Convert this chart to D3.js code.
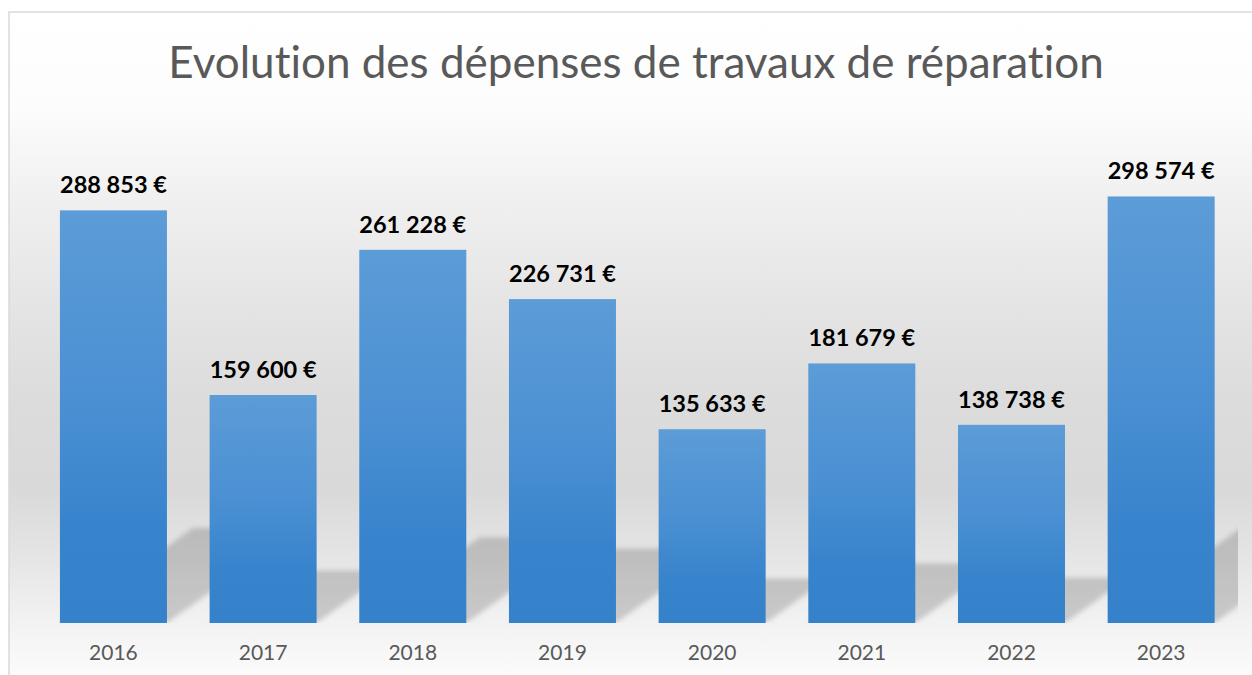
<!DOCTYPE html>
<html>
<head>
<meta charset="utf-8">
<script src="https://cdn.jsdelivr.net/npm/d3@7"></script>
<style>
  html, body { margin: 0; padding: 0; background: #fff; overflow: hidden; }
  svg { display: block; }
  text { font-variant-ligatures: none; }
</style>
</head>
<body>
<div id="chart"></div>
<script>
const title = "Evolution des dépenses de travaux de réparation";
const years = ["2016", "2017", "2018", "2019", "2020", "2021", "2022", "2023"];
const amounts = [288853, 159600, 261228, 226731, 135633, 181679, 138738, 298574];
const yMax = 350000;

const width = 1252, height = 675;
const plot = { left: 38.6, right: 1236, top: 123, bottom: 623 };

const svg = d3.select("#chart").append("svg")
    .attr("width", width)
    .attr("height", height);

const defs = svg.append("defs");

// chart background: white -> grey -> white
const bg = defs.append("linearGradient")
    .attr("id", "bg")
    .attr("gradientUnits", "userSpaceOnUse")
    .attr("x1", 0).attr("x2", 0).attr("y1", 12).attr("y2", 675);
[[0, "#ffffff"], [0.15, "#fcfcfc"], [0.28, "#f0f0f0"], [0.45, "#e4e4e4"],
 [0.585, "#dcdcdc"], [0.72, "#d9d9d9"], [0.83, "#e6e6e6"], [0.92, "#f2f2f2"], [1, "#fbfbfb"]]
    .forEach(([o, c]) => bg.append("stop").attr("offset", o).attr("stop-color", c));

const barGrad = defs.append("linearGradient")
    .attr("id", "barGrad")
    .attr("x1", 0).attr("x2", 0).attr("y1", 0).attr("y2", 1);
[[0, "#5c9cd7"], [0.45, "#4b90d3"], [0.78, "#3783cc"], [1, "#3582cb"]]
    .forEach(([o, c]) => barGrad.append("stop").attr("offset", o).attr("stop-color", c));

defs.append("filter")
    .attr("id", "blur")
    .attr("x", "-20%").attr("y", "-20%").attr("width", "140%").attr("height", "140%")
    .append("feGaussianBlur").attr("stdDeviation", 2.5);

defs.append("clipPath").attr("id", "plotClip")
    .append("rect")
    .attr("x", plot.left).attr("y", 0)
    .attr("width", plot.right - plot.left + 2).attr("height", plot.bottom);

svg.append("rect")
    .attr("x", 9).attr("y", 12)
    .attr("width", width + 20).attr("height", height + 20)
    .attr("fill", "url(#bg)")
    .attr("stroke", "#d9d9d9")
    .attr("stroke-width", 1.5);

const x = d3.scaleBand()
    .domain(years)
    .range([plot.left, plot.right])
    .paddingInner(0.285)
    .paddingOuter(0.1425);

const y = d3.scaleLinear()
    .domain([0, yMax])
    .range([plot.bottom, plot.top]);

const data = years.map((yr, i) => ({ year: yr, value: amounts[i] }));
const fmt = v => d3.format(",")(v).replace(/,/g, " ") + " €";

// perspective shadows behind the bars
svg.append("g")
    .attr("clip-path", "url(#plotClip)")
    .selectAll("polygon")
    .data(data)
    .join("polygon")
    .attr("points", d => {
        const x0 = x(d.year), x1 = x0 + x.bandwidth();
        const base = y(0);
        const hs = (y(0) - y(d.value)) * 0.23;
        const dx = hs * 1.4;
        return [[x0, base], [x1, base], [x1 + dx, base - hs], [x0 + dx, base - hs]].join(" ");
    })
    .attr("fill", "#000")
    .attr("fill-opacity", 0.17)
    .attr("filter", "url(#blur)");

svg.append("g")
    .selectAll("rect")
    .data(data)
    .join("rect")
    .attr("x", d => x(d.year))
    .attr("y", d => y(d.value))
    .attr("width", x.bandwidth())
    .attr("height", d => y(0) - y(d.value))
    .attr("fill", "url(#barGrad)");

svg.append("g")
    .selectAll("text")
    .data(data)
    .join("text")
    .attr("x", d => x(d.year) + x.bandwidth() / 2)
    .attr("y", d => y(d.value) - 17)
    .attr("text-anchor", "middle")
    .attr("font-family", "Lato, 'Open Sans', sans-serif")
    .attr("font-weight", "bold")
    .attr("font-size", 23.5)
    .attr("fill", "#000")
    .text(d => fmt(d.value));

const xAxis = svg.append("g")
    .attr("transform", `translate(0,${plot.bottom})`)
    .call(d3.axisBottom(x).tickSize(0).tickPadding(22));
xAxis.select(".domain").remove();
xAxis.selectAll("text")
    .attr("font-family", "Lato, 'Open Sans', sans-serif")
    .attr("font-size", 21)
    .attr("fill", "#595959");

svg.append("text")
    .attr("x", 636)
    .attr("y", 78)
    .attr("text-anchor", "middle")
    .attr("font-family", "Lato, 'Open Sans', sans-serif")
    .attr("font-size", 44)
    .attr("fill", "#595959")
    .text(title);
</script>
</body>
</html>
